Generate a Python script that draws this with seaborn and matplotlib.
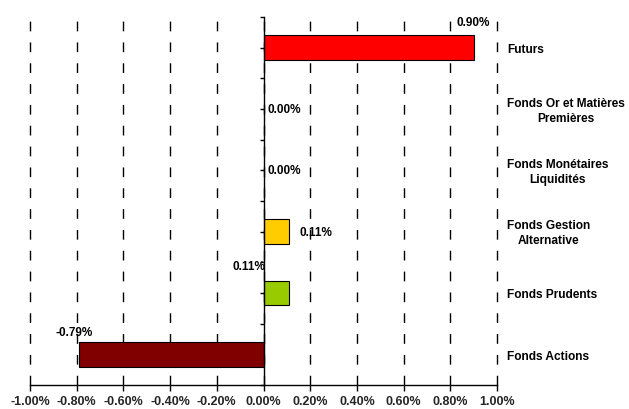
#!/usr/bin/env python
"""
Performance par catégorie de fonds - barres horizontales.
"""

import numpy as np
import pandas as pd
import matplotlib
matplotlib.use("Agg")
import matplotlib.pyplot as plt
import matplotlib.transforms as mtransforms
from matplotlib.ticker import FuncFormatter
import seaborn as sns

categories = [
    "Futurs",
    "Fonds Or et Matières\nPremières",
    "Fonds Monétaires\nLiquidités",
    "Fonds Gestion\nAlternative",
    "Fonds Prudents",
    "Fonds Actions",
]
values = [0.90, 0.00, 0.00, 0.11, 0.11, -0.79]
colors = ["#FF0000", "#FFFFFF", "#FFFFFF", "#FFCC00", "#99CC00", "#800000"]
x_ticks = [-1.0, -0.8, -0.6, -0.4, -0.2, 0.0, 0.2, 0.4, 0.6, 0.8, 1.0]

# label placement (offset in pixels, alignment) per bar
label_style = [
    ((0, 26), "center"),
    ((4, 0), "left"),
    ((4, 0), "left"),
    ((10, 0), "left"),
    ((-40, 27), "center"),
    ((-5, 22), "center"),
]


def run():
    sns.set_style("white")
    plt.rcParams["font.family"] = ["Liberation Sans", "DejaVu Sans"]
    plt.rcParams["font.weight"] = "bold"

    df = pd.DataFrame({"cat": categories, "val": values})

    fig = plt.figure(figsize=(6.29, 4.10), dpi=100)
    ax = fig.add_axes([30 / 629, 1 - 386 / 410, 467 / 629, 368 / 410])

    sns.barplot(data=df, x="val", y="cat", hue="cat", palette=colors,
                saturation=1, legend=False, orient="h", width=0.4, ax=ax,
                edgecolor="black", linewidth=0.8, zorder=3)
    # empty bars should not show an outline
    for p, v in zip(ax.patches, values):
        if v == 0:
            p.set_visible(False)

    ax.set_xlim(-1.0, 1.0)
    ax.set_ylim(5.5, -0.5)
    ax.set_xticks(x_ticks)
    ax.xaxis.set_major_formatter(FuncFormatter(lambda v, _: f"{v:.2f}%"))
    ax.tick_params(axis="x", bottom=True, direction="out", length=4, width=1,
                   color="black", labelsize=9, pad=3)
    for t in ax.get_xticklabels():
        t.set_fontweight("bold")

    ax.set_yticks(np.arange(-0.5, 5.6, 0.5))
    ax.set_yticklabels([])
    ax.tick_params(axis="y", left=True, direction="out", length=3, width=1,
                   color="black")
    ax.set_xlabel("")
    ax.set_ylabel("")

    for spine in ("top", "right"):
        ax.spines[spine].set_visible(False)
    ax.spines["left"].set_position(("data", 0))
    ax.spines["left"].set_color("black")
    ax.spines["left"].set_zorder(4)
    ax.spines["bottom"].set_color("black")
    ax.spines["left"].set_linewidth(1)
    ax.spines["bottom"].set_linewidth(1)

    ax.grid(axis="x", color="black", linestyle=(0, (7, 8)), linewidth=1)
    ax.grid(axis="y", visible=False)
    ax.set_axisbelow(True)
    for gl in ax.get_xgridlines():
        gl.set_clip_on(False)

    for i, (v, (off, ha)) in enumerate(zip(values, label_style)):
        ax.annotate(f"{v:.2f}%", xy=(v, i), xytext=off,
                    textcoords="offset pixels", ha=ha, va="center",
                    fontsize=8.5, fontweight="bold", color="black", zorder=5)

    trans = mtransforms.blended_transform_factory(ax.transAxes, ax.transData)
    for i, c in enumerate(categories):
        ax.text(1.021, i + 0.02, c, transform=trans, ha="left", va="center",
                multialignment="center", fontsize=8.6, fontweight="bold",
                color="black", linespacing=1.35)

    fig.patch.set_facecolor("w")
    fig.savefig("out.png", dpi=100)


if __name__ == "__main__":
    run()
